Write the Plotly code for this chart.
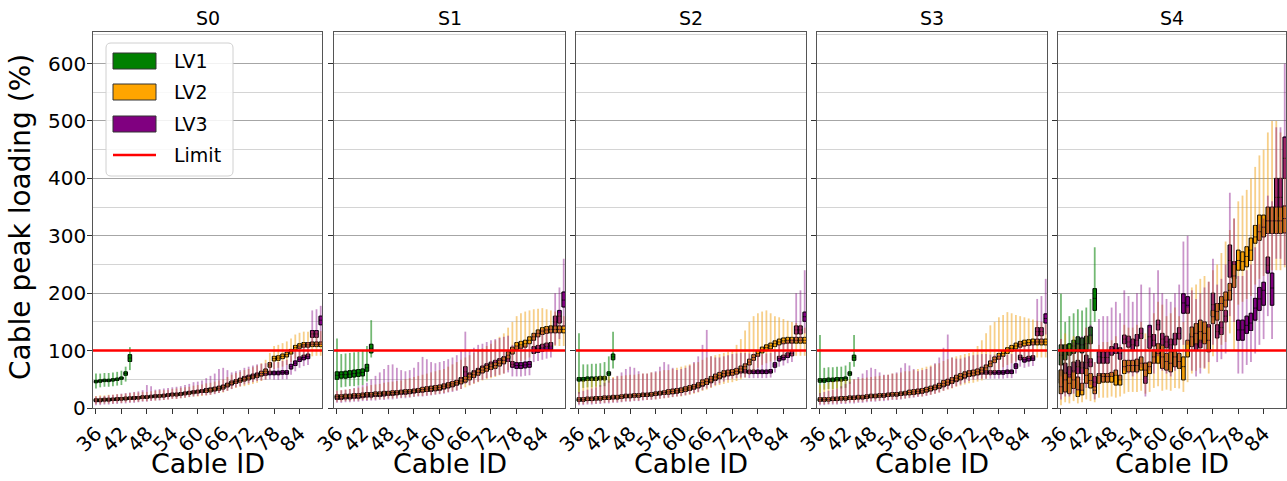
import plotly.graph_objects as go

W, H = 1287, 481

# ---------------- data ----------------
PANELS = ["S0", "S1", "S2", "S3", "S4"]
GROUPS = ["LV1", "LV2", "LV3"]
CATS_LV1 = [36, 37, 38, 39, 40, 41, 42, 43, 44]
CATS = [36, 37, 38, 39, 40, 41, 42, 43, 44, 45, 46, 47, 48, 49, 50, 51, 52, 53,
        54, 55, 56, 57, 58, 59, 60, 61, 62, 63, 64, 65, 66, 67, 68, 69, 70, 71,
        72, 73, 74, 75, 76, 77, 78, 79, 80, 81, 82, 83, 84, 85, 86, 87, 88, 89]
X_TICKS = [36, 42, 48, 54, 60, 66, 72, 78, 84]
Y_TICKS = [0, 100, 200, 300, 400, 500, 600]
LIMIT = 100

# ---- S0 ----
S0_LV1_MED = [46, 47, 48, 48, 49, 50, 52, 60, 87]
S0_LV1_Q1 = [44, 45, 46, 46, 47, 48, 50, 57, 81]
S0_LV1_Q3 = [48, 49, 50, 50, 51, 52, 54, 63, 93]
S0_LV1_LO = [34, 36, 37, 37, 38, 39, 40, 46, 66]
S0_LV1_HI = [60, 60, 61, 61, 62, 63, 65, 72, 106]

S0_LV2_MED = [14, 14, 15, 15, 15, 16, 16, 17, 17, 18, 18, 19, 19, 20, 20, 21, 21, 22,
              23, 23, 24, 25, 26, 27, 28, 29, 30, 31, 33, 34, 36, 40, 44, 46, 48, 50,
              52, 54, 56, 60, 64, 75, 86, 87, 90, 93, 98, 105, 108, 110, 110, 111, 111, 111]
S0_LV2_Q1 = [12, 12, 13, 13, 13, 14, 14, 15, 15, 16, 16, 17, 17, 18, 18, 19, 19, 20,
             21, 21, 22, 23, 24, 25, 26, 27, 27, 28, 30, 31, 33, 37, 41, 43, 45, 47,
             49, 51, 53, 56, 60, 71, 82, 83, 86, 89, 94, 101, 104, 106, 106, 107, 107, 107]
S0_LV2_Q3 = [16, 16, 17, 17, 17, 18, 18, 19, 19, 20, 20, 21, 21, 22, 22, 23, 23, 24,
             25, 25, 26, 27, 28, 29, 30, 31, 33, 34, 36, 37, 39, 43, 47, 49, 51, 53,
             55, 57, 59, 64, 68, 79, 90, 91, 94, 97, 102, 109, 112, 114, 114, 115, 115, 115]
S0_LV2_LO = [7, 7, 8, 8, 8, 9, 9, 10, 10, 11, 11, 12, 12, 13, 13, 14, 14, 15,
             16, 16, 17, 18, 19, 20, 20, 21, 22, 23, 25, 26, 27, 30, 33, 35, 37, 38,
             40, 42, 44, 47, 50, 60, 68, 70, 72, 75, 80, 86, 88, 90, 90, 90, 91, 91]
S0_LV2_HI = [21, 22, 22, 23, 23, 24, 24, 25, 26, 27, 27, 28, 28, 29, 30, 31, 31, 32,
             33, 34, 35, 36, 37, 39, 40, 41, 43, 44, 46, 48, 50, 54, 58, 61, 63, 66,
             68, 71, 74, 78, 84, 96, 108, 110, 113, 116, 121, 128, 131, 133, 133, 134, 134, 134]

S0_LV3_MED = [13, 13, 14, 14, 15, 15, 16, 16, 17, 17, 18, 19, 19, 20, 21, 21, 22, 23,
              24, 24, 25, 26, 27, 28, 29, 30, 31, 32, 33, 35, 37, 40, 43, 46, 49, 52,
              54, 56, 58, 59, 60, 61, 61, 61, 62, 62, 72, 78, 85, 88, 90, 129, 129, 153]
S0_LV3_Q1 = [11, 11, 12, 12, 13, 13, 14, 14, 15, 15, 16, 17, 17, 18, 19, 19, 20, 21,
             22, 22, 23, 24, 25, 26, 27, 28, 28, 29, 30, 32, 34, 37, 40, 43, 46, 49,
             51, 53, 55, 56, 57, 58, 58, 58, 59, 59, 68, 74, 81, 84, 86, 123, 123, 145]
S0_LV3_Q3 = [15, 15, 16, 16, 17, 17, 18, 18, 19, 19, 20, 21, 21, 22, 23, 23, 24, 25,
             26, 26, 27, 28, 29, 30, 31, 32, 34, 35, 36, 38, 40, 43, 46, 49, 52, 55,
             57, 59, 61, 62, 63, 64, 64, 64, 65, 65, 76, 82, 89, 92, 94, 135, 135, 160]
S0_LV3_LO = [5, 5, 6, 6, 7, 7, 8, 8, 9, 9, 10, 11, 11, 12, 13, 13, 14, 15,
             16, 16, 17, 18, 19, 20, 21, 22, 22, 23, 24, 26, 28, 30, 33, 36, 38, 41,
             43, 45, 47, 48, 49, 50, 49, 49, 50, 50, 58, 64, 70, 73, 75, 108, 108, 110]
S0_LV3_HI = [20, 20, 21, 22, 23, 24, 25, 26, 27, 28, 29, 31, 40, 38, 32, 33, 34, 35,
             36, 37, 38, 40, 42, 45, 46, 48, 52, 56, 60, 68, 70, 66, 62, 64, 66, 70,
             72, 74, 76, 77, 78, 80, 80, 80, 82, 84, 92, 100, 108, 112, 115, 170, 172, 178]

# ---- S1 ----
S1_LV1_MED = [57, 58, 58, 59, 60, 61, 62, 70, 104]
S1_LV1_Q1 = [50, 52, 52, 53, 54, 55, 56, 64, 96]
S1_LV1_Q3 = [63, 63, 64, 65, 66, 67, 68, 76, 111]
S1_LV1_LO = [30, 36, 37, 38, 38, 39, 40, 46, 88]
S1_LV1_HI = [121, 94, 95, 96, 97, 98, 100, 108, 153]

S1_LV2_MED = [20, 20, 21, 21, 22, 22, 23, 24, 24, 25, 25, 26, 26, 27, 27, 28, 29, 29,
              30, 31, 32, 33, 34, 35, 36, 38, 40, 42, 44, 47, 50, 54, 58, 62, 66, 69,
              72, 74, 78, 83, 92, 100, 108, 110, 112, 118, 124, 130, 134, 136, 137, 137, 137, 137]
S1_LV2_Q1 = [17, 17, 18, 18, 19, 19, 20, 21, 21, 22, 22, 23, 23, 24, 24, 25, 26, 26,
             27, 28, 28, 29, 30, 31, 32, 34, 36, 38, 40, 42, 45, 49, 53, 57, 61, 64,
             67, 69, 73, 77, 86, 94, 102, 104, 106, 112, 118, 124, 128, 130, 131, 131, 131, 131]
S1_LV2_Q3 = [23, 23, 24, 24, 25, 25, 26, 27, 27, 28, 28, 29, 29, 30, 30, 31, 32, 32,
             33, 34, 36, 37, 38, 39, 40, 42, 44, 46, 48, 52, 55, 59, 63, 67, 71, 74,
             77, 79, 83, 89, 98, 106, 114, 116, 118, 124, 130, 136, 140, 142, 143, 143, 143, 143]
S1_LV2_LO = [11, 11, 12, 12, 13, 13, 14, 14, 15, 15, 16, 16, 17, 17, 18, 18, 19, 19,
             20, 21, 21, 22, 23, 24, 25, 26, 28, 30, 31, 33, 36, 39, 42, 45, 48, 50,
             52, 54, 57, 60, 66, 72, 80, 82, 84, 88, 94, 100, 104, 106, 107, 108, 108, 108]
S1_LV2_HI = [30, 31, 32, 33, 34, 35, 36, 38, 40, 41, 42, 44, 45, 46, 47, 48, 50, 52,
             54, 56, 58, 60, 62, 64, 66, 68, 72, 76, 80, 84, 88, 92, 96, 100, 104, 108,
             112, 118, 124, 130, 140, 150, 160, 165, 168, 170, 172, 173, 174, 172, 170, 168, 165, 160]

S1_LV3_MED = [18, 18, 19, 19, 20, 20, 21, 22, 22, 23, 23, 24, 25, 25, 26, 27, 27, 28,
              29, 30, 31, 32, 33, 34, 35, 37, 39, 41, 44, 48, 63, 56, 60, 64, 68, 72,
              75, 78, 81, 84, 86, 76, 74, 74, 75, 76, 101, 103, 105, 107, 108, 150, 160, 188]
S1_LV3_Q1 = [15, 15, 16, 16, 17, 17, 18, 19, 19, 20, 20, 21, 22, 22, 23, 24, 24, 25,
             26, 27, 28, 29, 29, 30, 31, 33, 35, 37, 40, 43, 54, 51, 55, 59, 63, 67,
             70, 73, 76, 79, 81, 71, 69, 69, 70, 71, 95, 97, 99, 101, 102, 140, 148, 176]
S1_LV3_Q3 = [21, 21, 22, 22, 23, 23, 24, 25, 25, 26, 26, 27, 28, 28, 29, 30, 30, 31,
             32, 33, 34, 35, 37, 38, 39, 41, 43, 45, 48, 53, 72, 61, 65, 69, 73, 77,
             80, 83, 86, 89, 91, 81, 79, 79, 80, 81, 107, 109, 111, 113, 114, 160, 170, 202]
S1_LV3_LO = [9, 9, 10, 10, 11, 11, 12, 12, 13, 13, 14, 14, 15, 15, 16, 17, 17, 18,
             19, 20, 20, 21, 22, 23, 24, 25, 27, 28, 30, 33, 42, 40, 43, 46, 49, 52,
             54, 56, 58, 60, 62, 55, 55, 55, 56, 57, 80, 82, 84, 86, 88, 110, 120, 141]
S1_LV3_HI = [30, 31, 32, 33, 35, 38, 40, 44, 50, 56, 62, 68, 75, 76, 70, 66, 64, 66,
             70, 80, 89, 85, 80, 78, 80, 82, 85, 88, 92, 100, 133, 100, 105, 110, 112, 115,
             118, 120, 122, 124, 126, 110, 108, 108, 110, 112, 130, 135, 138, 140, 142, 200, 210, 260]

# ---- S2 ----
S2_LV1_MED = [50, 50, 51, 51, 51, 52, 52, 60, 89]
S2_LV1_Q1 = [47, 47, 48, 48, 48, 49, 49, 57, 84]
S2_LV1_Q3 = [53, 53, 54, 54, 54, 55, 55, 63, 94]
S2_LV1_LO = [25, 35, 36, 36, 37, 37, 38, 44, 69]
S2_LV1_HI = [130, 76, 76, 77, 77, 78, 80, 90, 133]

S2_LV2_MED = [15, 15, 16, 16, 17, 17, 18, 18, 19, 19, 20, 21, 21, 22, 22, 23, 23, 24,
              25, 26, 27, 28, 29, 30, 31, 33, 35, 37, 40, 44, 46, 50, 54, 57, 60, 61,
              62, 64, 68, 72, 80, 88, 95, 101, 105, 108, 112, 115, 117, 118, 118, 118, 118, 118]
S2_LV2_Q1 = [12, 12, 13, 13, 14, 14, 15, 15, 16, 16, 17, 18, 18, 19, 19, 20, 20, 21,
             22, 23, 24, 24, 25, 26, 27, 29, 31, 33, 36, 39, 41, 45, 49, 52, 55, 56,
             57, 59, 63, 67, 75, 83, 90, 96, 100, 103, 107, 110, 112, 113, 113, 113, 113, 113]
S2_LV2_Q3 = [18, 18, 19, 19, 20, 20, 21, 21, 22, 22, 23, 24, 24, 25, 25, 26, 26, 27,
             28, 29, 30, 32, 33, 34, 35, 37, 39, 41, 44, 49, 51, 55, 59, 62, 65, 66,
             67, 69, 73, 77, 85, 93, 100, 106, 110, 113, 117, 120, 122, 123, 123, 123, 123, 123]
S2_LV2_LO = [7, 7, 8, 8, 8, 9, 9, 10, 10, 11, 11, 12, 12, 13, 13, 14, 14, 15,
             15, 16, 17, 18, 19, 20, 20, 22, 23, 25, 27, 30, 32, 35, 38, 40, 42, 44,
             45, 47, 50, 53, 58, 64, 70, 75, 78, 81, 84, 87, 89, 90, 90, 91, 91, 91]
S2_LV2_HI = [45, 48, 50, 52, 54, 56, 56, 55, 54, 55, 56, 57, 58, 58, 59, 60, 60, 62,
             62, 64, 66, 66, 68, 70, 72, 74, 76, 78, 80, 84, 88, 90, 92, 94, 96, 98,
             100, 110, 120, 135, 150, 160, 165, 168, 170, 165, 160, 158, 155, 152, 150, 148, 145, 140]

S2_LV3_MED = [14, 14, 15, 15, 16, 16, 17, 17, 18, 18, 19, 20, 20, 21, 21, 22, 23, 23,
              24, 25, 26, 27, 28, 29, 30, 32, 34, 36, 38, 41, 44, 47, 51, 54, 57, 60,
              62, 63, 64, 64, 63, 63, 63, 63, 63, 64, 75, 86, 88, 92, 95, 136, 136, 159]
S2_LV3_Q1 = [12, 12, 13, 13, 14, 14, 15, 15, 16, 16, 17, 18, 18, 19, 19, 20, 21, 21,
             22, 23, 24, 25, 25, 26, 27, 29, 31, 33, 35, 38, 41, 44, 48, 51, 54, 57,
             59, 60, 61, 61, 60, 60, 60, 60, 60, 61, 71, 82, 84, 88, 91, 129, 129, 151]
S2_LV3_Q3 = [16, 16, 17, 17, 18, 18, 19, 19, 20, 20, 21, 22, 22, 23, 23, 24, 25, 25,
             26, 27, 28, 29, 31, 32, 33, 35, 37, 39, 41, 44, 47, 50, 54, 57, 60, 63,
             65, 66, 67, 67, 66, 66, 66, 66, 66, 67, 79, 90, 92, 96, 99, 143, 143, 167]
S2_LV3_LO = [5, 5, 6, 6, 7, 7, 8, 8, 9, 9, 10, 11, 11, 12, 12, 13, 14, 14,
             15, 16, 17, 18, 19, 20, 21, 22, 24, 26, 28, 31, 34, 36, 40, 43, 46, 49,
             51, 52, 53, 53, 52, 52, 52, 52, 52, 53, 62, 72, 74, 78, 80, 115, 115, 130]
S2_LV3_HI = [28, 30, 32, 34, 36, 40, 44, 48, 52, 56, 62, 68, 72, 70, 64, 60, 60, 62,
             64, 72, 80, 76, 70, 66, 68, 70, 74, 80, 90, 110, 136, 90, 88, 88, 90, 92,
             94, 95, 96, 96, 95, 95, 94, 94, 95, 96, 100, 110, 115, 118, 120, 200, 205, 240]

# ---- S3 ----
S3_LV1_MED = [48, 48, 49, 49, 50, 50, 51, 60, 88]
S3_LV1_Q1 = [45, 45, 46, 46, 47, 47, 48, 57, 83]
S3_LV1_Q3 = [51, 51, 52, 52, 53, 53, 54, 63, 92]
S3_LV1_LO = [20, 32, 33, 33, 34, 34, 35, 42, 72]
S3_LV1_HI = [127, 70, 71, 71, 72, 72, 74, 80, 127]

S3_LV2_MED = [15, 15, 15, 16, 16, 17, 17, 18, 18, 19, 19, 20, 21, 21, 22, 22, 23, 24,
              24, 25, 26, 27, 28, 29, 30, 32, 34, 36, 39, 43, 45, 48, 52, 55, 58, 60,
              61, 63, 66, 70, 77, 84, 90, 95, 100, 104, 108, 111, 113, 114, 115, 115, 115, 115]
S3_LV2_Q1 = [12, 12, 12, 13, 13, 14, 14, 15, 15, 16, 16, 17, 18, 18, 19, 19, 20, 21,
             21, 22, 23, 23, 24, 25, 26, 28, 30, 32, 35, 38, 40, 43, 47, 50, 53, 55,
             56, 58, 61, 65, 72, 79, 85, 90, 95, 99, 103, 106, 108, 109, 110, 110, 110, 110]
S3_LV2_Q3 = [18, 18, 18, 19, 19, 20, 20, 21, 21, 22, 22, 23, 24, 24, 25, 25, 26, 27,
             27, 28, 29, 31, 32, 33, 34, 36, 38, 40, 43, 48, 50, 53, 57, 60, 63, 65,
             66, 68, 71, 75, 82, 89, 95, 100, 105, 109, 113, 116, 118, 119, 120, 120, 120, 120]
S3_LV2_LO = [7, 7, 7, 8, 8, 9, 9, 10, 10, 11, 11, 12, 12, 13, 13, 14, 14, 15,
             15, 16, 17, 18, 19, 20, 20, 22, 23, 25, 27, 30, 32, 34, 37, 39, 41, 43,
             44, 46, 48, 51, 56, 62, 67, 71, 75, 78, 81, 84, 86, 87, 88, 88, 88, 88]
S3_LV2_HI = [40, 42, 44, 46, 48, 50, 50, 50, 50, 51, 52, 53, 54, 55, 56, 57, 58, 60,
             60, 62, 64, 64, 66, 68, 70, 72, 74, 76, 78, 82, 85, 88, 90, 92, 94, 96,
             98, 108, 118, 130, 144, 150, 158, 162, 167, 165, 162, 160, 158, 156, 154, 152, 150, 146]

S3_LV3_MED = [14, 14, 15, 15, 15, 16, 16, 17, 17, 18, 18, 19, 20, 20, 21, 21, 22, 23,
              23, 24, 25, 26, 27, 28, 29, 31, 33, 35, 37, 40, 43, 46, 49, 52, 55, 58,
              60, 61, 62, 62, 62, 62, 62, 62, 63, 63, 73, 88, 84, 86, 87, 133, 133, 156]
S3_LV3_Q1 = [12, 12, 13, 13, 13, 14, 14, 15, 15, 16, 16, 17, 18, 18, 19, 19, 20, 21,
             21, 22, 23, 24, 24, 25, 26, 28, 30, 32, 34, 37, 40, 43, 46, 49, 52, 55,
             57, 58, 59, 59, 59, 59, 59, 59, 60, 60, 69, 84, 80, 82, 83, 126, 126, 148]
S3_LV3_Q3 = [16, 16, 17, 17, 17, 18, 18, 19, 19, 20, 20, 21, 22, 22, 23, 23, 24, 25,
             25, 26, 27, 28, 30, 31, 32, 34, 36, 38, 40, 43, 46, 49, 52, 55, 58, 61,
             63, 64, 65, 65, 65, 65, 65, 65, 66, 66, 77, 92, 88, 90, 91, 140, 140, 164]
S3_LV3_LO = [5, 5, 6, 6, 6, 7, 7, 8, 8, 9, 9, 10, 11, 11, 12, 12, 13, 14,
             14, 15, 16, 17, 18, 19, 20, 21, 23, 25, 27, 30, 33, 35, 38, 41, 44, 47,
             49, 50, 51, 51, 51, 51, 51, 51, 52, 52, 60, 72, 70, 72, 73, 112, 112, 128]
S3_LV3_HI = [26, 28, 30, 32, 34, 38, 42, 46, 50, 54, 60, 66, 70, 68, 62, 58, 58, 60,
             62, 70, 78, 74, 68, 64, 66, 68, 72, 78, 88, 105, 128, 88, 86, 86, 88, 90,
             92, 93, 94, 94, 93, 93, 92, 92, 93, 94, 100, 115, 110, 112, 115, 190, 195, 225]

# ---- S4 ----
S4_LV1_MED = [92, 98, 104, 108, 112, 110, 112, 127, 191]
S4_LV1_Q1 = [75, 84, 92, 95, 98, 96, 99, 112, 170]
S4_LV1_Q3 = [110, 110, 112, 118, 124, 122, 125, 141, 208]
S4_LV1_LO = [55, 60, 65, 66, 70, 68, 70, 85, 150]
S4_LV1_HI = [199, 150, 160, 165, 172, 170, 175, 190, 280]

S4_LV2_MED = [37, 49, 43, 49, 32, 31, 57, 48, 31, 57, 55, 55, 55, 57, 49, 72, 74, 74,
              74, 78, 66, 72, 89, 95, 89, 81, 78, 89, 81, 72, 100, 124, 130, 133, 130, 118,
              159, 168, 182, 188, 205, 230, 257, 255, 264, 275, 298, 307, 315, 326, 326, 326, 326, 330]
S4_LV2_Q1 = [25, 28, 25, 34, 20, 23, 43, 35, 25, 43, 45, 45, 45, 40, 40, 60, 63, 63,
             63, 66, 55, 60, 78, 78, 69, 66, 63, 72, 69, 49, 89, 107, 112, 118, 112, 98,
             147, 153, 170, 176, 188, 210, 240, 240, 246, 257, 287, 292, 298, 304, 304, 304, 304, 305]
S4_LV2_Q3 = [66, 60, 54, 63, 54, 43, 69, 60, 37, 60, 60, 60, 62, 66, 57, 83, 83, 83,
             85, 89, 78, 80, 101, 112, 109, 95, 98, 101, 95, 89, 118, 141, 147, 153, 150, 141,
             170, 182, 194, 202, 217, 250, 275, 272, 281, 296, 318, 336, 336, 350, 350, 350, 350, 352]
S4_LV2_LO = [5, 10, 8, 12, 8, 10, 15, 12, 10, 18, 18, 18, 20, 18, 20, 25, 28, 28,
             28, 30, 25, 28, 35, 38, 30, 32, 30, 35, 34, 28, 45, 60, 65, 70, 68, 60,
             90, 100, 110, 115, 130, 100, 180, 185, 190, 195, 215, 225, 230, 240, 240, 240, 240, 245]
S4_LV2_HI = [120, 130, 110, 125, 110, 95, 140, 125, 80, 110, 115, 115, 118, 125, 110, 145, 140, 140,
             145, 150, 130, 140, 165, 185, 180, 160, 165, 175, 160, 150, 175, 210, 215, 225, 230, 220,
             240, 250, 270, 290, 310, 330, 360, 370, 380, 400, 420, 440, 450, 480, 500, 500, 480, 470]

S4_LV3_MED = [54, 62, 58, 65, 72, 70, 79, 80, 45, 89, 88, 88, 101, 104, 95, 120, 115, 110,
              118, 130, 60, 124, 118, 145, 120, 115, 110, 120, 130, 183, 179, 120, 110, 115, 125, 135,
              180, 133, 140, 160, 257, 240, 136, 136, 144, 148, 174, 190, 205, 249, 209, 367, 367, 435]
S4_LV3_Q1 = [43, 50, 49, 55, 60, 60, 66, 72, 35, 78, 78, 78, 92, 95, 85, 112, 106, 100,
             108, 121, 43, 104, 108, 136, 110, 105, 100, 110, 120, 165, 165, 110, 100, 105, 115, 125,
             160, 122, 128, 150, 228, 225, 118, 118, 130, 135, 153, 170, 179, 235, 179, 333, 333, 400]
S4_LV3_Q3 = [66, 78, 72, 80, 83, 80, 92, 86, 55, 98, 98, 98, 107, 112, 105, 127, 125, 120,
             128, 139, 78, 144, 128, 153, 130, 125, 120, 130, 140, 199, 194, 130, 120, 125, 135, 145,
             200, 145, 150, 170, 284, 255, 153, 153, 160, 165, 191, 210, 219, 263, 235, 400, 400, 472]
S4_LV3_LO = [15, 20, 20, 25, 30, 30, 35, 40, 15, 45, 45, 45, 55, 58, 50, 65, 60, 55,
             60, 70, 20, 65, 60, 90, 65, 60, 55, 65, 70, 110, 110, 65, 55, 60, 70, 80,
             110, 80, 85, 95, 160, 150, 60, 60, 75, 80, 95, 110, 120, 160, 120, 260, 260, 249]
S4_LV3_HI = [120, 110, 100, 115, 125, 125, 140, 145, 80, 155, 160, 160, 175, 185, 165, 205, 195, 185,
             200, 215, 120, 210, 200, 240, 200, 190, 185, 200, 215, 290, 300, 205, 190, 200, 210, 220,
             260, 215, 225, 250, 375, 330, 230, 230, 240, 250, 280, 320, 330, 370, 360, 489, 489, 600]

# ---------------- styling ----------------
COLORS = {"LV1": "#008000", "LV2": "#ffa500", "LV3": "#800080"}
WHISK = {"LV1": "rgba(0,128,0,0.55)", "LV2": "rgba(240,160,20,0.5)", "LV3": "rgba(128,0,128,0.42)"}
FONT = "DejaVu Sans"

# panel pixel boxes
PX_L = [93, 334, 576, 817, 1058]
PX_R = [322, 565, 806, 1047, 1286]
PY_T, PY_B = 32, 408
Y_MAX = 655


def px(x):
    return x / W


def py(y):
    return 1 - y / H


fig = go.Figure()

for i, p in enumerate(PANELS):
    n = "" if i == 0 else str(i + 1)
    xa, ya = "x" + n, "y" + n
    # whiskers / strips
    for g in GROUPS:
        cats = CATS_LV1 if g == "LV1" else CATS
        lo = globals()[f"{p}_{g}_LO"]
        hi = globals()[f"{p}_{g}_HI"]
        xs, ys = [], []
        for c, l, h in zip(cats, lo, hi):
            xs += [c, c, None]
            ys += [l, h, None]
        fig.add_trace(go.Scatter(x=xs, y=ys, mode="lines", xaxis=xa, yaxis=ya,
                                 line=dict(color=WHISK[g], width=1.8),
                                 hoverinfo="skip", showlegend=False))
    # boxes
    for g in ["LV3", "LV2", "LV1"]:
        cats = CATS_LV1 if g == "LV1" else CATS
        q1 = globals()[f"{p}_{g}_Q1"]
        med = globals()[f"{p}_{g}_MED"]
        q3 = globals()[f"{p}_{g}_Q3"]
        fig.add_trace(go.Box(x=cats, q1=q1, median=med, q3=q3,
                             lowerfence=q1, upperfence=q3,
                             xaxis=xa, yaxis=ya, width=0.85,
                             fillcolor=COLORS[g], line=dict(color="black", width=1),
                             boxpoints=False, hoverinfo="skip", showlegend=False))
    # limit line
    fig.add_shape(type="line", xref=f"{xa} domain", yref=ya, x0=0, x1=1,
                  y0=LIMIT, y1=LIMIT, line=dict(color="red", width=2.5))
    # subplot title
    fig.add_annotation(text=p, xref="paper", yref="paper",
                       x=px((PX_L[i] + PX_R[i]) / 2), y=py(18),
                       xanchor="center", yanchor="middle", showarrow=False,
                       font=dict(family=FONT, size=19, color="black"))
    fig.add_annotation(text="Cable ID", xref="paper", yref="paper",
                       x=px((PX_L[i] + PX_R[i]) / 2), y=py(463),
                       xanchor="center", yanchor="middle", showarrow=False,
                       font=dict(family=FONT, size=27, color="black"))

    fig.update_layout(**{
        ("xaxis" + n): dict(domain=[px(PX_L[i]), px(PX_R[i])], anchor=ya,
                            range=[35.3, 89.3], tickvals=X_TICKS,
                            ticktext=[str(t) for t in X_TICKS],
                            tickangle=-45, ticks="outside", ticklen=5,
                            tickcolor="#333", showgrid=False, zeroline=False,
                            showline=True, mirror=True, linecolor="#555", linewidth=1,
                            automargin=False,
                            tickfont=dict(family=FONT, size=20, color="black")),
        ("yaxis" + n): dict(domain=[py(PY_B), py(PY_T)], anchor=xa,
                            range=[0, Y_MAX], tickvals=Y_TICKS,
                            showticklabels=False, ticks="outside", ticklen=5,
                            tickcolor="#333", showgrid=True, gridcolor="#a6a6a6",
                            gridwidth=1.2, zeroline=False, showline=True, mirror=True,
                            linecolor="#555", linewidth=1, automargin=False,
                            minor=dict(dtick=50, showgrid=True, gridcolor="#d4d4d4",
                                       gridwidth=1.2),
                            tickfont=dict(family=FONT, size=20, color="black")),
    })

# y tick labels on the first panel (as text placed at the axis values)
for t in Y_TICKS:
    fig.add_annotation(text=str(t), xref="paper", yref="y", x=px(88), y=t,
                       xanchor="right", yanchor="middle", showarrow=False,
                       font=dict(family=FONT, size=20, color="black"))

# y-axis title
fig.add_annotation(text="Cable peak loading (%)", xref="paper", yref="paper",
                   x=px(21), y=py(217), textangle=-90, xanchor="center",
                   yanchor="middle", showarrow=False,
                   font=dict(family=FONT, size=28, color="black"))

# legend (drawn manually)
LEG_L, LEG_R, LEG_T, LEG_B, R = 106, 233, 43, 176, 5
path = (f"M {px(LEG_L + R)},{py(LEG_T)} L {px(LEG_R - R)},{py(LEG_T)} "
        f"Q {px(LEG_R)},{py(LEG_T)} {px(LEG_R)},{py(LEG_T + R)} "
        f"L {px(LEG_R)},{py(LEG_B - R)} Q {px(LEG_R)},{py(LEG_B)} {px(LEG_R - R)},{py(LEG_B)} "
        f"L {px(LEG_L + R)},{py(LEG_B)} Q {px(LEG_L)},{py(LEG_B)} {px(LEG_L)},{py(LEG_B - R)} "
        f"L {px(LEG_L)},{py(LEG_T + R)} Q {px(LEG_L)},{py(LEG_T)} {px(LEG_L + R)},{py(LEG_T)} Z")
fig.add_shape(type="path", xref="paper", yref="paper", path=path,
              fillcolor="rgba(255,255,255,0.85)", line=dict(color="#d0d0d0", width=1))
LEG_ROWS = [61, 92, 124, 155]
for row, g in zip(LEG_ROWS[:3], GROUPS):
    fig.add_shape(type="rect", xref="paper", yref="paper",
                  x0=px(113), x1=px(156), y0=py(row - 8), y1=py(row + 8),
                  fillcolor=COLORS[g], line=dict(color="#333", width=1))
    fig.add_annotation(text=g, xref="paper", yref="paper", x=px(172), y=py(row),
                       xanchor="left", yanchor="middle", showarrow=False,
                       font=dict(family=FONT, size=19, color="black"))
fig.add_shape(type="line", xref="paper", yref="paper", x0=px(113), x1=px(156),
              y0=py(LEG_ROWS[3]), y1=py(LEG_ROWS[3]), line=dict(color="red", width=2.5))
fig.add_annotation(text="Limit", xref="paper", yref="paper", x=px(172), y=py(LEG_ROWS[3]),
                   xanchor="left", yanchor="middle", showarrow=False,
                   font=dict(family=FONT, size=19, color="black"))

fig.update_layout(width=W, height=H, margin=dict(l=0, r=0, t=0, b=0, autoexpand=False),
                  paper_bgcolor="white", plot_bgcolor="white",
                  boxmode="overlay", showlegend=False,
                  font=dict(family=FONT, color="black"))

fig.write_html("out.html", config={"displayModeBar": False},
               post_script="document.body.style.margin='0px';document.body.style.overflow='hidden';")
